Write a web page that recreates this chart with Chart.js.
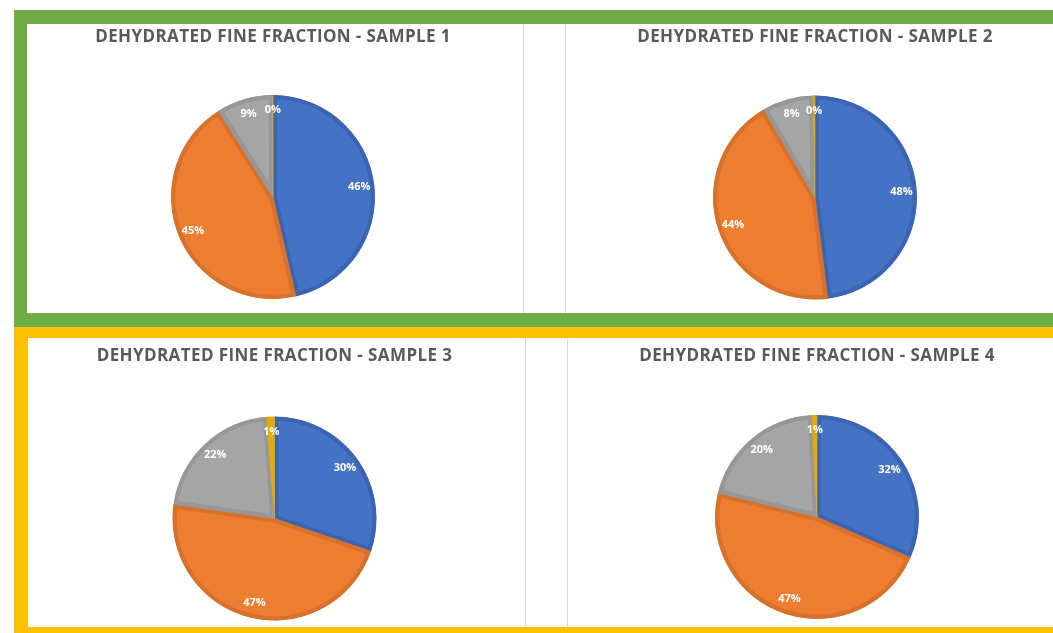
<!DOCTYPE html>
<html>
<head>
<meta charset="utf-8">
<script src="https://cdn.jsdelivr.net/npm/chart.js@4.4.0/dist/chart.umd.min.js"></script>
<style>
  html, body { margin: 0; padding: 0; background: #fff; width: 1053px; height: 633px; overflow: hidden; position: relative; font-family: 'Open Sans', sans-serif; }
  .frame { position: absolute; box-sizing: border-box; }
  #greenFrame { left: 14px; top: 10px; width: 1070px; height: 317px; border: 14px solid #70AD47; border-left-width: 13px; border-right: none; }
  #yellowFrame { left: 14px; top: 327px; width: 1070px; height: 314px; border: 14px solid #FFC000; border-top-width: 11px; border-right: none; }
  .vline { position: absolute; width: 1px; background: #D9D9D9; }
  canvas { position: absolute; }
</style>
</head>
<body>
<div id="greenFrame" class="frame"></div>
<div id="yellowFrame" class="frame"></div>
<div class="vline" style="left:523px;top:24px;height:289px;"></div>
<div class="vline" style="left:565px;top:24px;height:289px;"></div>
<div class="vline" style="left:525px;top:338px;height:289px;"></div>
<div class="vline" style="left:567px;top:338px;height:289px;"></div>
<canvas id="c1" width="492" height="289" style="left:27px;top:24px;"></canvas>
<canvas id="c2" width="498" height="289" style="left:566px;top:24px;"></canvas>
<canvas id="c3" width="493" height="284" style="left:28px;top:343px;"></canvas>
<canvas id="c4" width="500" height="284" style="left:567px;top:343px;"></canvas>
<script>
// ---- data ----
const categories = ['Component A', 'Component B', 'Component C', 'Component D'];
const titles = [
  'DEHYDRATED FINE FRACTION - SAMPLE 1',
  'DEHYDRATED FINE FRACTION - SAMPLE 2',
  'DEHYDRATED FINE FRACTION - SAMPLE 3',
  'DEHYDRATED FINE FRACTION - SAMPLE 4'
];
const sample1 = [46.4, 44.6, 8.95, 0.05];
const sample2 = [48.0, 43.6, 8.1, 0.3];
const sample3 = [30.2, 47.0, 21.6, 1.2];
const sample4 = [31.5, 47.3, 20.4, 0.8];

// ---- style ----
const fillColors = ['#4472C4', '#ED7D31', '#A5A5A5', '#FFC000'];
const edgeColors = ['#3B65B0', '#D8712C', '#979797', '#E3AB00'];
const titlePadBottom = [39, 39, 47, 44];
const layoutPadBottom = [5.4, 4.4, 3.4, 3.4];

const pctLabels = {
  id: 'pctLabels',
  beforeDraw(chart) { chart.ctx.letterSpacing = '0.4px'; },
  beforeDatasetsDraw(chart) { chart.ctx.letterSpacing = '0px'; },
  afterDatasetsDraw(chart) {
    const ctx = chart.ctx;
    const meta = chart.getDatasetMeta(0);
    const data = chart.data.datasets[0].data;
    const total = data.reduce((a, b) => a + b, 0);
    ctx.save();
    ctx.letterSpacing = '0px';
    ctx.font = 'bold 11px "Open Sans"';
    ctx.fillStyle = '#FFFFFF';
    ctx.textAlign = 'center';
    ctx.textBaseline = 'middle';
    meta.data.forEach((arc, i) => {
      const p = arc.getProps(['x', 'y', 'startAngle', 'endAngle', 'outerRadius'], true);
      const mid = (p.startAngle + p.endAngle) / 2;
      const r = p.outerRadius * 0.85;
      ctx.fillText(Math.round(data[i] / total * 100) + '%', p.x + Math.cos(mid) * r, p.y + Math.sin(mid) * r);
    });
    ctx.restore();
  }
};

function makePie(id, values, idx) {
  new Chart(document.getElementById(id), {
    type: 'pie',
    data: {
      labels: categories,
      datasets: [{
        data: values,
        backgroundColor: fillColors,
        borderColor: edgeColors,
        borderWidth: 4,
        borderAlign: 'inner'
      }]
    },
    options: {
      responsive: false,
      animation: false,
      radius: 102,
      layout: { padding: { bottom: layoutPadBottom[idx] } },
      plugins: {
        legend: { display: false },
        tooltip: { enabled: false },
        title: {
          display: true,
          text: titles[idx],
          color: '#595959',
          font: { family: "'Open Sans'", size: 17, weight: 'bold', lineHeight: 1.2 },
          padding: { top: 3, bottom: titlePadBottom[idx] }
        }
      }
    },
    plugins: [pctLabels]
  });
}

makePie('c1', sample1, 0);
makePie('c2', sample2, 1);
makePie('c3', sample3, 2);
makePie('c4', sample4, 3);
</script>
</body>
</html>
